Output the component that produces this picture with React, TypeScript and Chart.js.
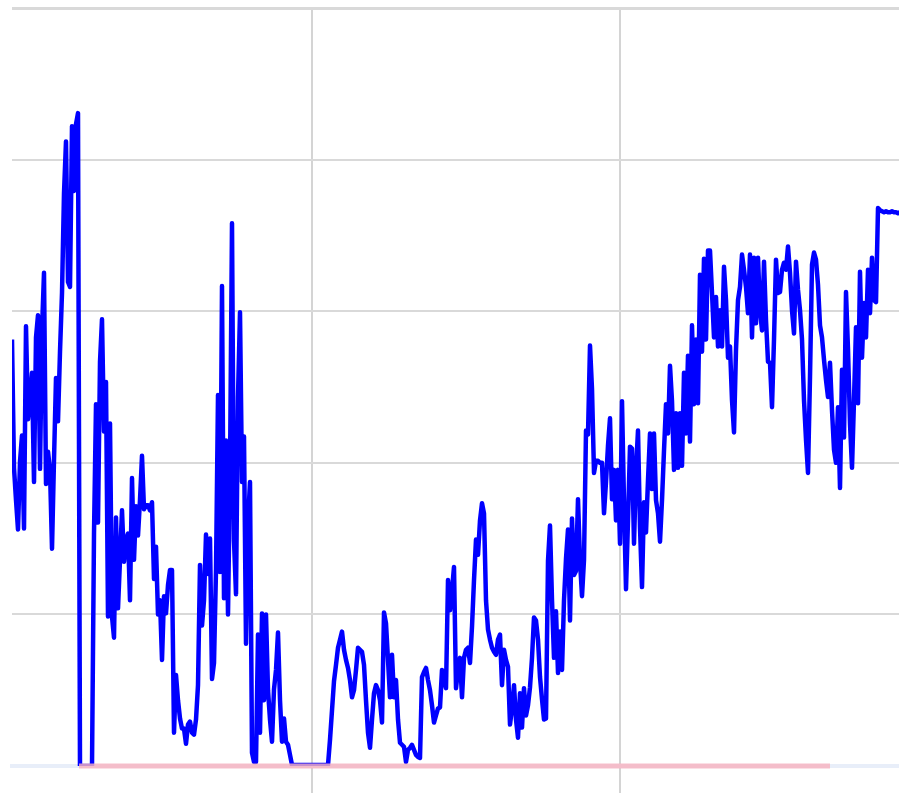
import { useEffect, useRef } from 'react';
import { Chart, registerables } from 'chart.js';

Chart.register(...registerables);

// Series values, one sample per step along the x axis
const series: number[] = [
  422, 295, 263, 234, 301, 327, 235, 435, 343, 362, 389, 281, 424, 446, 294, 431, 488, 279, 311, 293,
  215, 303, 384, 341, 410, 468, 567, 618, 479, 474, 633, 569, 635, 646, 0, 0, 0, 0, 0, 0,
  0, 230, 358, 241, 400, 442, 331, 380, 148, 339, 148, 127, 246, 156, 204, 253, 202, 224, 230, 164,
  285, 204, 257, 228, 263, 307, 254, 258, 258, 253, 261, 185, 217, 150, 164, 105, 168, 151, 179, 194,
  194, 33, 90, 65, 47, 37, 37, 22, 41, 44, 33, 31, 46, 80, 199, 139, 164, 229, 190, 225,
  86, 102, 194, 367, 192, 475, 166, 322, 150, 292, 537, 223, 170, 365, 449, 281, 326, 121, 241, 281,
  13, 4, 4, 130, 33, 151, 65, 150, 75, 46, 24, 76, 95, 132, 65, 24, 47, 24, 21, 11,
  1, 1, 1, 1, 1, 1, 1, 1, 1, 1, 1, 1, 1, 1, 1, 1, 1, 1, 1, 26,
  55, 84, 100, 117, 125, 133, 115, 105, 97, 85, 68, 75, 95, 117, 115, 113, 100, 65, 33, 18,
  46, 72, 80, 75, 65, 43, 152, 141, 105, 68, 110, 68, 85, 46, 23, 21, 19, 4, 16, 18,
  21, 16, 11, 9, 8, 88, 93, 97, 85, 75, 60, 43, 50, 57, 58, 95, 85, 77, 184, 154,
  174, 197, 77, 95, 107, 68, 107, 115, 117, 102, 138, 184, 224, 209, 243, 260, 250, 164, 135, 125,
  117, 113, 110, 125, 130, 80, 115, 105, 98, 41, 57, 80, 46, 28, 72, 38, 77, 50, 60, 78,
  107, 147, 144, 125, 88, 66, 46, 47, 203, 238, 164, 107, 153, 92, 133, 95, 164, 205, 234, 144,
  245, 189, 193, 264, 203, 168, 204, 332, 328, 416, 373, 290, 302, 302, 300, 300, 250, 281, 317, 344,
  264, 293, 243, 293, 220, 361, 261, 175, 243, 316, 314, 220, 293, 332, 236, 177, 261, 231, 283, 329,
  274, 329, 263, 250, 222, 263, 312, 358, 329, 396, 361, 293, 349, 295, 349, 297, 389, 329, 406, 321,
  436, 358, 422, 359, 486, 410, 502, 422, 510, 510, 468, 424, 464, 415, 451, 415, 494, 461, 404, 415,
  362, 330, 412, 461, 474, 506, 491, 474, 448, 506, 424, 503, 438, 503, 451, 431, 499, 441, 400, 399,
  355, 422, 501, 468, 469, 491, 498, 491, 514, 488, 451, 428, 499, 471, 451, 422, 362, 323, 290, 385,
  496, 508, 501, 476, 436, 424, 402, 382, 365, 399, 352, 313, 300, 355, 275, 392, 325, 469, 412, 339,
  295, 362, 434, 359, 489, 404, 458, 424, 491, 448, 503, 461, 459, 552, 550, 549, 548, 549, 548, 548,
  549, 548, 548, 547, 548, 547, 548, 548, 547, 548, 548, 547, 548, 548, 548,
];

// Highlighted baseline band (start / end position on the x axis)
const bandRange: number[] = [33.5, 409];

// Vertical grid positions on the x axis
const xGridValues: number[] = [150, 304];

const xMax = 464;
const yMax = 750;
const yStep = 150;

export default function App() {
  const ref = useRef<HTMLCanvasElement>(null);

  useEffect(() => {
    document.documentElement.style.overflow = 'hidden';
    const canvas = ref.current;
    if (!canvas) return;
    const chart = new Chart(canvas, {
      type: 'line',
      data: {
        datasets: [
          {
            data: bandRange.map((x) => ({ x, y: 0 })),
            borderColor: 'rgba(247,178,191,0.82)',
            borderWidth: 5,
            borderCapStyle: 'butt',
            pointRadius: 0,
            clip: false,
            order: 0,
          },
          {
            data: series.map((y, i) => ({ x: i, y })),
            borderColor: '#0000ff',
            borderWidth: 4.5,
            borderJoinStyle: 'round',
            pointRadius: 0,
            tension: 0,
            order: 1,
          },
        ],
      },
      options: {
        responsive: false,
        animation: false,
        layout: { padding: { left: 12, top: 8, right: 0, bottom: 0 } },
        plugins: { legend: { display: false }, tooltip: { enabled: false } },
        scales: {
          x: {
            type: 'linear',
            min: 0,
            max: xMax,
            afterBuildTicks: (scale: any) => {
              scale.ticks = xGridValues.map((value) => ({ value }));
            },
            ticks: { display: false },
            grid: { color: '#d4d4d4', lineWidth: 2, drawTicks: true, tickLength: 27 },
            border: { color: '#e8eef9', width: 4 },
          },
          y: {
            min: 0,
            max: yMax,
            ticks: { display: false, stepSize: yStep },
            grid: {
              drawTicks: false,
              color: (ctx: any) => (ctx.tick && ctx.tick.value === 0 ? 'rgba(0,0,0,0)' : '#d9d9d9'),
              lineWidth: (ctx: any) => (ctx.tick && ctx.tick.value === yMax ? 3 : 2),
            },
            border: { display: false },
          },
        },
      },
    });
    return () => chart.destroy();
  }, []);

  return (
    <div style={{ position: 'fixed', left: 0, top: 0, width: 940, height: 793 }}>
      <canvas ref={ref} width={940} height={793} style={{ display: 'block' }} />
    </div>
  );
}
